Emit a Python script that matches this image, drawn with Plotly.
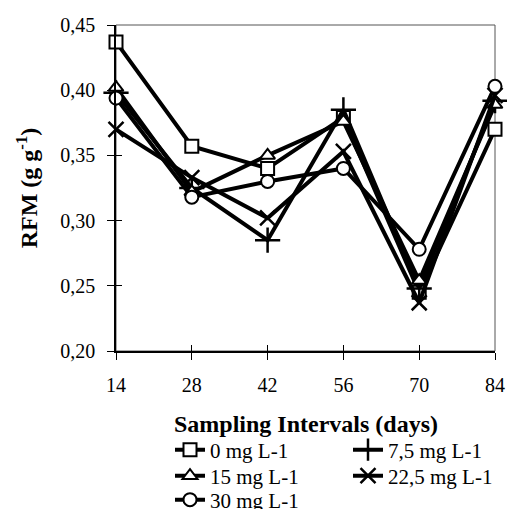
import plotly.graph_objects as go

days = [14, 28, 42, 56, 70, 84]
s0 = [0.437, 0.357, 0.340, 0.379, 0.245, 0.370]
s75 = [0.398, 0.325, 0.285, 0.385, 0.248, 0.392]
s15 = [0.402, 0.322, 0.350, 0.376, 0.254, 0.389]
s225 = [0.370, 0.333, 0.302, 0.353, 0.237, 0.396]
s30 = [0.394, 0.318, 0.330, 0.340, 0.278, 0.403]
names = ["0 mg L-1", "7,5 mg L-1", "15 mg L-1", "22,5 mg L-1", "30 mg L-1"]
yticks = [0.20, 0.25, 0.30, 0.35, 0.40, 0.45]
x_title = "<b>Sampling Intervals (days)</b>"
y_title = "<b>RFM (g g<sup>-1</sup>)</b>"

series = [s0, s75, s15, s225, s30]
symbols = ["square", "cross-thin", "triangle-up", "x-thin", "circle"]
sizes = [13, 18, 13, 15, 13]
legend_ids = ["legend", "legend", "legend2", "legend2", "legend3"]

FONT = "Liberation Serif"
W, H = 507, 509
L, T, R, B = 116, 25, 12, 158

fig = go.Figure()
for name, ys, sym, sz, lg in zip(names, series, symbols, sizes, legend_ids):
    fig.add_trace(go.Scatter(
        x=days, y=ys, name=name, mode="lines+markers", legend=lg,
        line=dict(color="black", width=4),
        marker=dict(symbol=sym, size=sz, color="white",
                    line=dict(color="black", width=2.5 if "thin" in sym else 2)),
        cliponaxis=False,
    ))
# invisible trace to carry the overlay axes (cross tick marks)
fig.add_trace(go.Scatter(x=days, y=s0, xaxis="x2", yaxis="y2", mode="lines",
                         line=dict(width=0), showlegend=False, hoverinfo="skip"))

plot_w = W - L - R
plot_h = H - T - B
leg_x = (170 - L) / plot_w


def leg(yc):
    return dict(orientation="h", x=leg_x, xanchor="left",
                yref="container", y=1 - yc / H, yanchor="middle",
                font=dict(family=FONT, size=21), entrywidth=133,
                entrywidthmode="pixels", itemwidth=30,
                bgcolor="rgba(0,0,0,0)")


fig.update_layout(
    width=W, height=H,
    margin=dict(l=L, r=R, t=T, b=B, autoexpand=False),
    paper_bgcolor="white", plot_bgcolor="white",
    separators=",.",
    font=dict(family=FONT, size=20, color="black"),
    showlegend=True,
    xaxis=dict(range=[14, 84], tickvals=days, showgrid=False, zeroline=False,
               showline=True, linecolor="black", linewidth=1.5, automargin=False,
               ticks="outside", ticklen=7, tickwidth=1, tickcolor="black",
               ticklabelstandoff=8,
               tickfont=dict(family=FONT, size=20)),
    yaxis=dict(range=[0.20, 0.45], tickvals=yticks, tickformat=".2f",
               showgrid=False, zeroline=False, automargin=False,
               showline=True, linecolor="black", linewidth=1.5,
               ticks="outside", ticklen=7, tickwidth=1, tickcolor="black",
               ticklabelstandoff=8,
               tickfont=dict(family=FONT, size=20),
               title=dict(text=y_title,
                          font=dict(family=FONT, size=24), standoff=16)),
    xaxis2=dict(overlaying="x", anchor="y2", range=[14, 84], tickvals=days,
                showticklabels=False, showgrid=False, zeroline=False,
                showline=False, ticks="inside", ticklen=6, tickwidth=1,
                tickcolor="black", side="bottom"),
    yaxis2=dict(overlaying="y", anchor="x2", range=[0.20, 0.45], tickvals=yticks,
                showticklabels=False, showgrid=False, zeroline=False,
                showline=False, ticks="inside", ticklen=6, tickwidth=1,
                tickcolor="black", side="left"),
    legend=leg(450),
    legend2=leg(476),
    legend3=leg(500),
    annotations=[dict(text=x_title, xref="paper", x=0.5, xanchor="center",
                      yref="paper", y=(H - B - 424) / plot_h, yanchor="middle",
                      showarrow=False, font=dict(family=FONT, size=24))],
    shapes=[dict(type="rect", xref="paper", yref="paper", x0=0, x1=1, y0=0, y1=1,
                 line=dict(color="#555555", width=1), layer="below")],
)

fig.write_html("out.html",
               config={"displayModeBar": False},
               post_script="document.body.style.margin='0';"
                           "document.body.style.overflow='hidden';")
